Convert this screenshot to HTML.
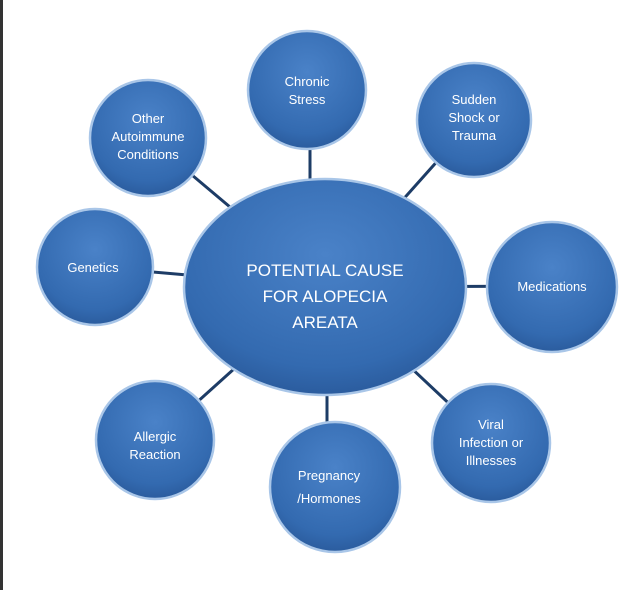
<!DOCTYPE html>
<html><head><style>
body{margin:0;background:#fff;}
svg{display:block}
text{font-family:"Liberation Sans",sans-serif;fill:#fff;text-anchor:middle}
</style></head><body>
<svg width="640" height="590" viewBox="0 0 640 590">
<defs>
<radialGradient id="g" cx="50%" cy="35%" r="65%">
<stop offset="0" stop-color="#4a82c8"/><stop offset="0.8" stop-color="#336ab0"/><stop offset="1" stop-color="#2b5c9e"/>
</radialGradient>
</defs>
<rect x="0" y="0" width="3" height="590" fill="#333"/>
<g stroke="#1d3c66" stroke-width="3">
<line x1="325" y1="287" x2="148" y2="138"/>
<line x1="310" y1="287" x2="310" y2="90"/>
<line x1="325" y1="287" x2="474" y2="120"/>
<line x1="325" y1="287" x2="95" y2="267"/>
<line x1="325" y1="287" x2="552" y2="286"/>
<line x1="325" y1="287" x2="491" y2="443"/>
<line x1="327" y1="287" x2="327" y2="487"/>
<line x1="325" y1="287" x2="155" y2="440"/>
</g>
<g fill="url(#g)" stroke="#a9c6e8" stroke-width="2.5">
<ellipse cx="325" cy="287" rx="141" ry="108"/>
<circle cx="148" cy="138" r="58"/>
<circle cx="307" cy="90" r="59"/>
<circle cx="474" cy="120" r="57"/>
<circle cx="95" cy="267" r="58"/>
<circle cx="552" cy="287" r="65"/>
<circle cx="491" cy="443" r="59"/>
<circle cx="335" cy="487" r="65"/>
<circle cx="155" cy="440" r="59"/>
</g>
<g font-size="17">
<text x="325" y="276">POTENTIAL CAUSE</text>
<text x="325" y="302">FOR ALOPECIA</text>
<text x="325" y="328">AREATA</text>
</g>
<g font-size="13">
<text x="148" y="123">Other</text><text x="148" y="141">Autoimmune</text><text x="148" y="159">Conditions</text>
<text x="307" y="86">Chronic</text><text x="307" y="104">Stress</text>
<text x="474" y="104">Sudden</text><text x="474" y="122">Shock or</text><text x="474" y="140">Trauma</text>
<text x="93" y="272">Genetics</text>
<text x="552" y="291">Medications</text>
<text x="491" y="429">Viral</text><text x="491" y="447">Infection or</text><text x="491" y="465">Illnesses</text>
<text x="329" y="480">Pregnancy</text><text x="329" y="503">/Hormones</text>
<text x="155" y="441">Allergic</text><text x="155" y="459">Reaction</text>
</g>
</svg>
</body></html>
